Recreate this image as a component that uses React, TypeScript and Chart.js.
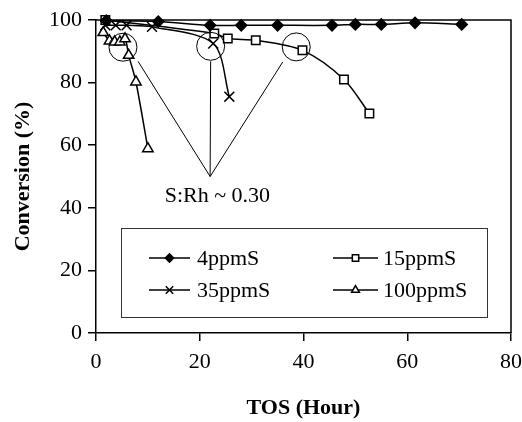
import React, { useEffect, useRef } from "react";
import { Chart, registerables } from "chart.js";

Chart.register(...registerables);

const seriesNames = ["4ppmS", "15ppmS", "35ppmS", "100ppmS"];

const tos4 = [2, 12, 22, 28, 35, 45.5, 50, 55, 61.5, 70.5];
const conv4 = [99.8, 99.5, 98.3, 98.3, 98.3, 98.3, 98.6, 98.6, 99.1, 98.6];

const tos15 = [1.8, 22.8, 25.4, 30.8, 39.8, 47.8, 52.7];
const conv15 = [100, 95.7, 94.1, 93.5, 90.3, 81, 70.1];

const tos35 = [1.8, 3.8, 5.9, 10.8, 22.6, 25.7];
const conv35 = [98.3, 98.3, 98.3, 97.8, 92.5, 75.5];

const tos100 = [1.4, 2.6, 3.6, 4.6, 5.6, 6.3, 7.7, 10.0];
const conv100 = [96, 93.3, 93, 93, 94, 88.7, 80.2, 58.9];

const xTicks = [0, 20, 40, 60, 80];
const yTicks = [0, 20, 40, 60, 80, 100];

// annotation: circled regions (data coords), converging lines to a label
const circleX = [5.2, 22.1, 38.6];
const circleY = [91.3, 91.6, 91.4];
const lineStartX = [8.1, 22.1, 36.0];
const lineStartY = [86.8, 86.8, 86.6];
const apex = [22.0, 50.0];
const noteText = "S:Rh ~ 0.30";
const noteAt = [23.4, 43.6];

const FONT = "'Liberation Serif', 'Times New Roman', serif";

const pts = (xs: number[], ys: number[]) => xs.map((x, i) => ({ x, y: ys[i] }));

function drawMarker(ctx: CanvasRenderingContext2D, style: string, x: number, y: number, r: number, fill: string) {
  ctx.beginPath();
  if (style === "rectRot") {
    ctx.moveTo(x, y - r);
    ctx.lineTo(x + r, y);
    ctx.lineTo(x, y + r);
    ctx.lineTo(x - r, y);
    ctx.closePath();
  } else if (style === "rect") {
    const s = r * Math.SQRT1_2;
    ctx.rect(x - s, y - s, 2 * s, 2 * s);
  } else if (style === "crossRot") {
    const s = r * Math.SQRT1_2;
    ctx.moveTo(x - s, y - s);
    ctx.lineTo(x + s, y + s);
    ctx.moveTo(x + s, y - s);
    ctx.lineTo(x - s, y + s);
    ctx.stroke();
    return;
  } else {
    ctx.moveTo(x, y - r);
    ctx.lineTo(x + r * 0.866, y + r * 0.5);
    ctx.lineTo(x - r * 0.866, y + r * 0.5);
    ctx.closePath();
  }
  ctx.fillStyle = fill;
  ctx.fill();
  ctx.stroke();
}

const overlayPlugin = {
  id: "overlay",
  afterDatasetsDraw(chart: any) {
    const { ctx, chartArea, scales } = chart;
    const xs = scales.x;
    const ys = scales.y;
    ctx.save();
    // frame top and right
    ctx.strokeStyle = "#000";
    ctx.lineWidth = 1.5;
    ctx.beginPath();
    ctx.moveTo(chartArea.left, chartArea.top);
    ctx.lineTo(chartArea.right, chartArea.top);
    ctx.lineTo(chartArea.right, chartArea.bottom);
    ctx.stroke();

    // circles
    ctx.lineWidth = 1;
    for (let i = 0; i < circleX.length; i++) {
      ctx.beginPath();
      ctx.arc(xs.getPixelForValue(circleX[i]), ys.getPixelForValue(circleY[i]), 14, 0, Math.PI * 2);
      ctx.stroke();
    }
    // lines to apex
    const ax = xs.getPixelForValue(apex[0]);
    const ay = ys.getPixelForValue(apex[1]);
    for (let i = 0; i < lineStartX.length; i++) {
      ctx.beginPath();
      ctx.moveTo(xs.getPixelForValue(lineStartX[i]), ys.getPixelForValue(lineStartY[i]));
      ctx.lineTo(ax, ay);
      ctx.stroke();
    }
    ctx.fillStyle = "#000";
    ctx.font = `22px ${FONT}`;
    ctx.textAlign = "center";
    ctx.textBaseline = "middle";
    ctx.fillText(noteText, xs.getPixelForValue(noteAt[0]), ys.getPixelForValue(noteAt[1]));

    // legend box
    const bx = 121, by = 228, bw = 366, bh = 89;
    ctx.fillStyle = "#fff";
    ctx.fillRect(bx, by, bw, bh);
    ctx.strokeStyle = "#333";
    ctx.lineWidth = 1;
    ctx.strokeRect(bx + 0.5, by + 0.5, bw, bh);
    const cols = [[149, 190, 197], [333, 378, 383]];
    const rows = [258, 290];
    chart.data.datasets.forEach((ds: any, i: number) => {
      const [l1, l2, tx] = cols[i % 2];
      const yy = rows[Math.floor(i / 2)];
      ctx.strokeStyle = "#000";
      ctx.lineWidth = 1.5;
      ctx.beginPath();
      ctx.moveTo(l1, yy);
      ctx.lineTo(l2, yy);
      ctx.stroke();
      ctx.lineWidth = ds.pointBorderWidth;
      drawMarker(ctx, ds.pointStyle, (l1 + l2) / 2, yy, ds.pointRadius * 0.75, ds.pointBackgroundColor);
      ctx.fillStyle = "#000";
      ctx.font = `22px ${FONT}`;
      ctx.textAlign = "left";
      ctx.textBaseline = "middle";
      ctx.fillText(ds.label, tx, yy + 1);
    });
    ctx.restore();
  },
};

export default function App() {
  const ref = useRef<HTMLCanvasElement | null>(null);
  useEffect(() => {
    document.body.style.margin = "0";
    const c = ref.current!;
    const common = {
      borderColor: "#000",
      borderWidth: 1.5,
      pointBorderColor: "#000",
      pointBorderWidth: 1.5,
      tension: 0.3,
      clip: false as any,
      showLine: true,
      fill: false,
    };
    const chart = new Chart(c, {
      type: "line",
      data: {
        datasets: [
          { ...common, label: seriesNames[0], data: pts(tos4, conv4), pointStyle: "rectRot", pointRadius: 5.5, pointBackgroundColor: "#000" },
          { ...common, label: seriesNames[1], data: pts(tos15, conv15), pointStyle: "rect", pointRadius: 6, pointBackgroundColor: "#fff" },
          { ...common, label: seriesNames[2], data: pts(tos35, conv35), pointStyle: "crossRot", pointRadius: 7, pointBackgroundColor: "#fff" },
          { ...common, label: seriesNames[3], data: pts(tos100, conv100), pointStyle: "triangle", pointRadius: 6, pointBackgroundColor: "#fff" },
        ] as any,
      },
      options: {
        responsive: false,
        animation: false,
        layout: { padding: { left: 0, right: 11, top: 20, bottom: 0 } },
        plugins: { legend: { display: false }, tooltip: { enabled: false } },
        scales: {
          x: {
            type: "linear",
            min: 0,
            max: 80,
            afterBuildTicks: (s: any) => { s.ticks = xTicks.map((v) => ({ value: v })); },
            afterFit: (s: any) => { s.height = 89; s.paddingLeft = 0; s.paddingRight = 0; },
            ticks: { color: "#000", font: { family: FONT, size: 22 }, padding: 8, maxRotation: 0 },
            grid: { drawOnChartArea: false, drawTicks: true, tickLength: 8, color: "#000", lineWidth: 1.5 },
            border: { color: "#000", width: 1.5 },
            title: { display: true, text: "TOS (Hour)", color: "#000", font: { family: FONT, size: 22, weight: "bold" }, padding: { top: 0, bottom: 0 } },
          },
          y: {
            type: "linear",
            min: 0,
            max: 100,
            afterBuildTicks: (s: any) => { s.ticks = yTicks.map((v) => ({ value: v })); },
            afterFit: (s: any) => { s.width = 96; s.paddingTop = 0; s.paddingBottom = 0; },
            ticks: { color: "#000", font: { family: FONT, size: 22 }, padding: 6 },
            grid: { drawOnChartArea: false, drawTicks: true, tickLength: 8, color: "#000", lineWidth: 1.5 },
            border: { color: "#000", width: 1.5 },
            title: { display: true, text: "Conversion (%)", color: "#000", font: { family: FONT, size: 22, weight: "bold" }, padding: { top: 10, bottom: 0 } },
          },
        },
      } as any,
      plugins: [overlayPlugin],
    });
    return () => chart.destroy();
  }, []);
  return (
    <div style={{ position: "absolute", left: 0, top: 0, width: 522, height: 422 }}>
      <canvas ref={ref} width={522} height={422} style={{ width: 522, height: 422 }} />
    </div>
  );
}
